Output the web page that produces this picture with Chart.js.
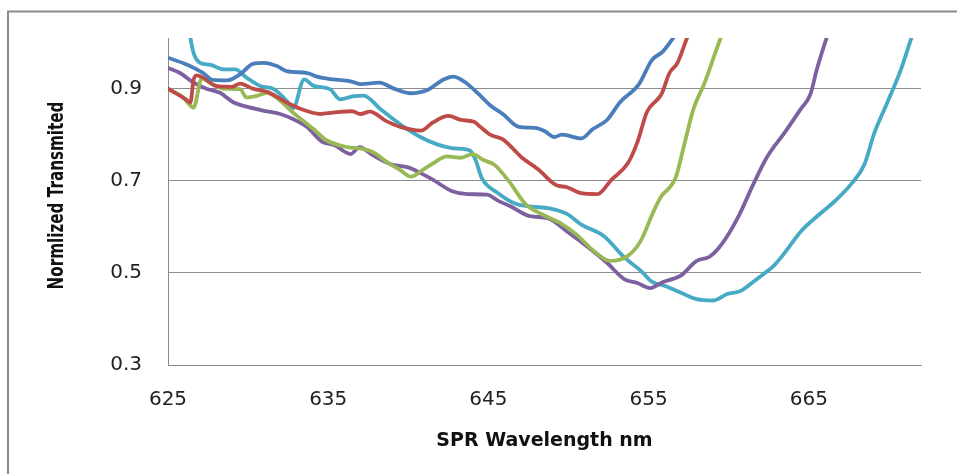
<!DOCTYPE html>
<html>
<head>
<meta charset="utf-8">
<script src="https://cdn.jsdelivr.net/npm/chart.js@4.4.1/dist/chart.umd.min.js"></script>
<style>
  body { margin: 0; background: #fff; }
  canvas { display: block; }
</style>
</head>
<body>
<canvas id="chartId" width="957" height="474"></canvas>
<script>
// tick labels
var xTicks = [625, 635, 645, 655, 665];
var yTicks = [0.3, 0.5, 0.7, 0.9];
var yTitle = 'Normlized Transmited';

// series (wavelength nm / normalized transmission)
var blueNm = [625.0, 626.2, 627.2, 627.8, 628.7, 629.5, 630.3, 631.0, 631.8, 632.4, 633.7, 634.3, 635.3, 636.4, 637.0, 638.2, 639.1, 640.1, 641.2, 642.2, 642.8, 643.5, 644.4, 645.1, 645.9, 646.9, 647.9, 648.5, 649.1, 649.6, 650.8, 651.5, 652.4, 653.2, 654.4, 655.2, 655.9, 656.6, 657.2];
var blueT = [0.967, 0.952, 0.934, 0.919, 0.918, 0.931, 0.954, 0.956, 0.949, 0.938, 0.934, 0.926, 0.920, 0.916, 0.910, 0.913, 0.900, 0.890, 0.897, 0.920, 0.926, 0.915, 0.888, 0.864, 0.845, 0.817, 0.815, 0.808, 0.795, 0.800, 0.792, 0.812, 0.832, 0.870, 0.910, 0.962, 0.981, 1.013, 1.04];

var redNm = [625.0, 626.1, 626.4, 626.6, 626.8, 627.2, 628.0, 629.0, 629.5, 630.3, 631.2, 632.4, 633.3, 634.5, 635.3, 636.5, 637.0, 637.6, 638.6, 639.5, 640.8, 641.5, 642.5, 643.3, 644.1, 644.5, 645.1, 645.9, 647.1, 648.1, 649.2, 649.9, 650.8, 651.8, 652.7, 653.7, 654.3, 654.9, 655.8, 656.3, 656.8, 657.4, 657.8];
var redT = [0.900, 0.877, 0.870, 0.920, 0.929, 0.924, 0.906, 0.904, 0.911, 0.900, 0.893, 0.870, 0.856, 0.845, 0.848, 0.851, 0.845, 0.850, 0.830, 0.817, 0.809, 0.826, 0.841, 0.832, 0.828, 0.817, 0.800, 0.790, 0.750, 0.725, 0.691, 0.686, 0.673, 0.671, 0.703, 0.738, 0.784, 0.850, 0.888, 0.934, 0.956, 1.010, 1.04];

var greenNm = [625.0, 625.95, 626.6, 627.1, 627.8, 628.5, 629.5, 629.9, 630.5, 631.2, 632.0, 632.8, 634.1, 634.9, 636.2, 637.0, 637.8, 638.7, 639.5, 640.15, 640.95, 641.6, 642.4, 643.3, 644.0, 644.7, 645.4, 646.3, 647.3, 648.3, 649.5, 650.5, 651.6, 652.6, 653.7, 654.5, 655.3, 655.8, 656.3, 656.7, 657.2, 657.8, 658.5, 659.5, 659.9];
var greenT = [0.900, 0.881, 0.859, 0.922, 0.909, 0.900, 0.899, 0.881, 0.884, 0.891, 0.874, 0.848, 0.812, 0.788, 0.773, 0.770, 0.762, 0.740, 0.723, 0.709, 0.725, 0.739, 0.753, 0.750, 0.758, 0.745, 0.734, 0.698, 0.650, 0.628, 0.608, 0.583, 0.547, 0.526, 0.537, 0.569, 0.633, 0.667, 0.685, 0.708, 0.775, 0.856, 0.913, 1.010, 1.04];

var purpleNm = [625.0, 625.75, 626.6, 627.4, 628.25, 629.1, 629.9, 631.0, 632.0, 632.8, 633.7, 634.6, 635.4, 636.4, 636.95, 637.8, 638.9, 640.0, 640.8, 641.5, 642.7, 643.7, 644.9, 645.6, 646.4, 647.6, 648.7, 649.9, 651.4, 652.4, 653.5, 654.3, 655.1, 655.9, 657.0, 658.0, 658.8, 659.6, 660.6, 661.5, 662.4, 663.5, 664.5, 665.1, 665.5, 666.2, 666.5];
var purpleT = [0.945, 0.934, 0.913, 0.900, 0.891, 0.870, 0.861, 0.852, 0.845, 0.834, 0.816, 0.785, 0.777, 0.758, 0.773, 0.755, 0.736, 0.729, 0.716, 0.703, 0.678, 0.671, 0.670, 0.657, 0.644, 0.623, 0.619, 0.590, 0.551, 0.522, 0.486, 0.478, 0.467, 0.480, 0.494, 0.526, 0.535, 0.564, 0.622, 0.690, 0.752, 0.805, 0.856, 0.888, 0.942, 1.020, 1.05];

var cyanNm = [626.1, 626.4, 626.6, 627.0, 627.6, 628.5, 629.2, 629.9, 630.75, 631.6, 632.4, 632.8, 633.5, 634.1, 635.1, 635.75, 636.6, 637.2, 638.25, 639.6, 640.75, 641.8, 642.7, 643.6, 643.9, 644.2, 644.6, 645.6, 646.7, 647.7, 648.8, 649.9, 650.8, 652.2, 653.5, 654.5, 655.2, 656.0, 657.2, 658.0, 659.0, 659.9, 660.75, 661.8, 662.8, 663.5, 664.5, 665.75, 666.6, 667.6, 668.45, 669.1, 669.9, 670.75, 671.4, 671.8];
var cyanT = [1.08, 1.010, 0.977, 0.956, 0.952, 0.942, 0.942, 0.924, 0.906, 0.899, 0.874, 0.857, 0.920, 0.906, 0.899, 0.877, 0.884, 0.885, 0.856, 0.820, 0.795, 0.779, 0.771, 0.768, 0.764, 0.745, 0.705, 0.673, 0.650, 0.644, 0.640, 0.628, 0.605, 0.580, 0.533, 0.505, 0.481, 0.472, 0.454, 0.443, 0.440, 0.454, 0.461, 0.488, 0.515, 0.544, 0.590, 0.630, 0.655, 0.691, 0.734, 0.805, 0.870, 0.942, 1.010, 1.05];

function points(xs, ys) {
    return xs.map(function(x, i) {
        return { x: x, y: ys[i] };
    });
}

function series(xs, ys, color) {
    return {
        data: points(xs, ys),
        borderColor: color,
        borderWidth: 3.8,
        pointRadius: 0,
        cubicInterpolationMode: 'monotone',
        borderJoinStyle: 'round',
        borderCapStyle: 'round'
    };
}

// grey frame (only left and top edges are visible) + narrow vertical axis title
var frame = {
    id: 'frame',
    beforeDraw: function(chart) {
        var ctx = chart.ctx;
        ctx.save();
        ctx.fillStyle = '#ffffff';
        ctx.fillRect(0, 0, chart.width, chart.height);
        ctx.strokeStyle = '#8a8a8a';
        ctx.lineWidth = 2;
        ctx.strokeRect(8, 11.5, chart.width + 20, chart.height + 20);
        ctx.restore();
    },
    afterDraw: function(chart) {
        var ctx = chart.ctx;
        var area = chart.chartArea;
        ctx.save();
        ctx.font = 'bold 21px "DejaVu Sans"';
        var w = ctx.measureText(yTitle).width;
        ctx.translate(58, (area.top + area.bottom) / 2 - 6);
        ctx.rotate(-Math.PI / 2);
        ctx.scale(188 / w, 1);
        ctx.fillStyle = '#111';
        ctx.textAlign = 'center';
        ctx.textBaseline = 'middle';
        ctx.fillText(yTitle, 0, 0);
        ctx.restore();
    }
};

var grey = '#8c8c8c';

new Chart(document.getElementById('chartId'), {
    type: 'line',
    data: {
        datasets: [
            series(blueNm, blueT, '#4a7ebb'),
            series(redNm, redT, '#be4b48'),
            series(greenNm, greenT, '#98b954'),
            series(purpleNm, purpleT, '#7d60a0'),
            series(cyanNm, cyanT, '#46aac5')
        ]
    },
    options: {
        responsive: false,
        animation: false,
        layout: { padding: { left: 0, top: 35, right: 36, bottom: 0 } },
        plugins: {
            legend: { display: false },
            tooltip: { enabled: false }
        },
        scales: {
            x: {
                type: 'linear',
                min: 625,
                max: 672,
                afterBuildTicks: function(axis) {
                    axis.ticks = xTicks.map(function(v) { return { value: v }; });
                },
                afterFit: function(axis) { axis.height = 109; },
                grid: { display: false, drawTicks: false },
                border: { display: true, color: grey, width: 1 },
                ticks: {
                    padding: 23,
                    maxRotation: 0,
                    autoSkip: false,
                    color: '#222',
                    font: { family: 'DejaVu Sans', size: 20 }
                },
                title: {
                    display: true,
                    text: 'SPR Wavelength nm',
                    color: '#111',
                    padding: { top: 0, bottom: 22 },
                    font: { family: 'DejaVu Sans', size: 19, weight: 'bold' }
                }
            },
            y: {
                type: 'linear',
                min: 0.3,
                max: 1.01,
                afterBuildTicks: function(axis) {
                    axis.ticks = yTicks.map(function(v) { return { value: v }; });
                },
                afterFit: function(axis) { axis.width = 168; },
                grid: { color: grey, lineWidth: 1, drawTicks: false },
                border: { display: true, color: grey, width: 1 },
                ticks: {
                    padding: 26,
                    color: '#222',
                    font: { family: 'DejaVu Sans', size: 20 }
                }
            }
        }
    },
    plugins: [frame]
});
</script>
</body>
</html>
